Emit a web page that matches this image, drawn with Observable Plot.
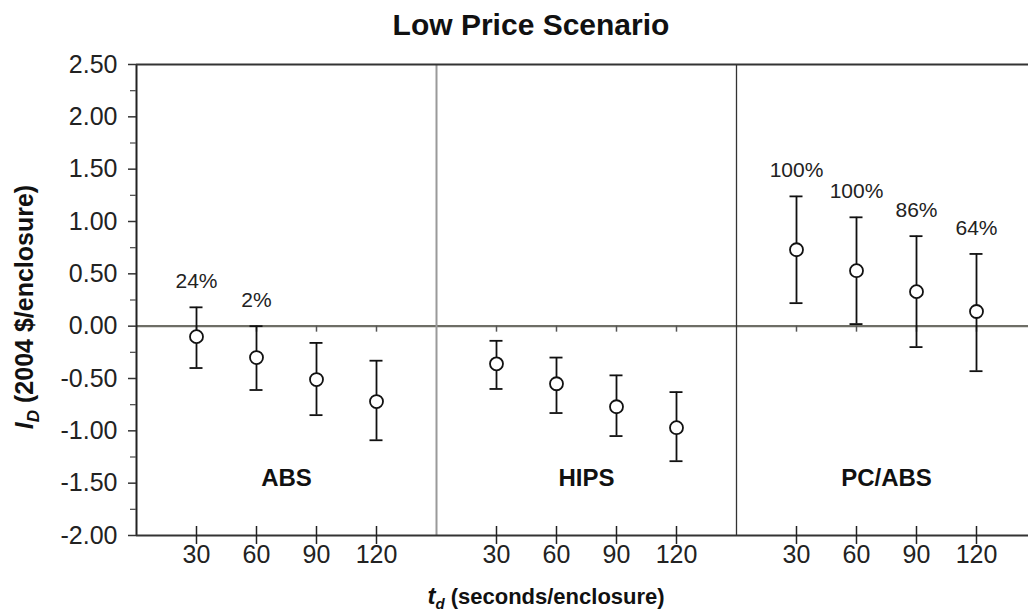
<!DOCTYPE html>
<html>
<head>
<meta charset="utf-8">
<script src="https://cdn.jsdelivr.net/npm/d3@7"></script>
<script src="https://cdn.jsdelivr.net/npm/@observablehq/plot@0.6"></script>
<style>
  html, body { margin: 0; padding: 0; background: #fff; }
  #chart svg { display: block; }
</style>
</head>
<body>
<div id="chart"></div>
<script>
// ---- data ----
const materials = ["ABS", "HIPS", "PC/ABS"];
const tdValues = [30, 60, 90, 120];
const absMean = [-0.10, -0.30, -0.51, -0.72];
const absLow  = [-0.40, -0.61, -0.85, -1.09];
const absHigh = [ 0.18,  0.00, -0.16, -0.33];
const absPct  = ["24%", "2%", "", ""];
const hipsMean = [-0.36, -0.55, -0.77, -0.97];
const hipsLow  = [-0.60, -0.83, -1.05, -1.29];
const hipsHigh = [-0.14, -0.30, -0.47, -0.63];
const hipsPct  = ["", "", "", ""];
const pcMean = [0.73, 0.53, 0.33, 0.14];
const pcLow  = [0.22, 0.02, -0.20, -0.43];
const pcHigh = [1.24, 1.04, 0.86, 0.69];
const pcPct  = ["100%", "100%", "86%", "64%"];
const yTicks = [-2, -1.5, -1, -0.5, 0, 0.5, 1, 1.5, 2, 2.5];
const yMinorTicks = [-1.75, -1.25, -0.75, -0.25, 0.25, 0.75, 1.25, 1.75, 2.25];

// ---- build table ----
const panelSpan = 150;
const series = [
  [absMean, absLow, absHigh, absPct],
  [hipsMean, hipsLow, hipsHigh, hipsPct],
  [pcMean, pcLow, pcHigh, pcPct]
];
const rows = [];
series.forEach(([m, lo, hi, pct], p) => {
  tdValues.forEach((t, i) => {
    rows.push({material: materials[p], pos: p * panelSpan + t, td: t, mean: m[i], low: lo[i], high: hi[i], pct: pct[i]});
  });
});
const xTickPos = rows.map(d => d.pos);
const panelLabels = materials.map((m, p) => ({label: m, pos: p * panelSpan + panelSpan / 2}));
const dividers = materials.slice(1).map((m, p) => (p + 1) * panelSpan);

const font = "'Liberation Sans', Arial, Helvetica, sans-serif";

const chart = Plot.plot({
  width: 1028,
  height: 615,
  marginTop: 64,
  marginBottom: 80,
  marginLeft: 136,
  marginRight: 0,
  style: {fontFamily: font, background: "#fff", color: "#222"},
  x: {domain: [0, 446], axis: null},
  y: {domain: [-2, 2.5], axis: null},
  marks: [
    // zero line
    Plot.ruleY([0], {stroke: "#6e6e66", strokeWidth: 2.2}),
    // small ticks under zero line
    Plot.ruleX(xTickPos, {y1: 0, y2: 0, insetBottom: -6, stroke: "#555", strokeWidth: 1.5}),
    // panel dividers
    Plot.ruleX([dividers[0]], {stroke: "#9a9a9a", strokeWidth: 2}),
    Plot.ruleX([dividers[1]], {stroke: "#333", strokeWidth: 1.3}),
    // frame: left, top, bottom
    Plot.ruleX([0], {stroke: "#222", strokeWidth: 2}),
    Plot.ruleY([2.5], {stroke: "#333", strokeWidth: 2}),
    Plot.ruleY([-2], {stroke: "#333", strokeWidth: 2}),
    // bottom ticks crossing axis
    Plot.ruleX(xTickPos, {y1: -2, y2: -2, insetTop: -9, insetBottom: -9, stroke: "#222", strokeWidth: 1.5}),
    Plot.axisX({ticks: xTickPos, tickSize: 0, tickPadding: 10, label: null, tickFormat: d => String(d % panelSpan), fontSize: 25, fill: "#222"}),
    // y axis
    Plot.axisY({ticks: yTicks, tickSize: 8, tickPadding: 11, label: null, tickFormat: d => d.toFixed(2), fontSize: 25, fill: "#222", stroke: "#333", strokeWidth: 1.5}),
    Plot.axisY({ticks: yMinorTicks, tickSize: 6, label: null, tickFormat: () => "", stroke: "#555", strokeWidth: 1.3}),
    // error bars
    Plot.ruleX(rows, {x: "pos", y1: "low", y2: "high", stroke: "#111", strokeWidth: 1.8}),
    Plot.ruleY(rows, {y: "high", x1: "pos", x2: "pos", insetLeft: -6.5, insetRight: -6.5, stroke: "#111", strokeWidth: 1.8}),
    Plot.ruleY(rows, {y: "low", x1: "pos", x2: "pos", insetLeft: -6.5, insetRight: -6.5, stroke: "#111", strokeWidth: 1.8}),
    // points
    Plot.dot(rows, {x: "pos", y: "mean", r: 6.5, fill: "#fff", stroke: "#111", strokeWidth: 1.8}),
    // percent labels
    Plot.text(rows.filter(d => d.pct), {x: "pos", y: "high", text: "pct", dy: -26, fontSize: 21, fill: "#222"}),
    // panel labels
    Plot.text(panelLabels, {x: "pos", y: () => -1.45, text: "label", fontSize: 24, fontWeight: "bold", fill: "#111"})
  ]
});

const svg = d3.select(chart);
// title
svg.append("text")
  .attr("x", 531).attr("y", 35)
  .attr("text-anchor", "middle")
  .attr("font-family", font).attr("font-size", 30).attr("font-weight", "bold").attr("fill", "#111")
  .text("Low Price Scenario");
// x-axis label
const xl = svg.append("text")
  .attr("x", 546).attr("y", 604)
  .attr("text-anchor", "middle")
  .attr("font-family", font).attr("font-size", 22).attr("font-weight", "bold").attr("fill", "#111");
xl.append("tspan").attr("font-style", "italic").attr("font-size", 24).text("t");
xl.append("tspan").attr("font-style", "italic").attr("font-size", 15).attr("dy", 5).text("d");
xl.append("tspan").attr("dy", -5).text(" (seconds/enclosure)");
// y-axis label
const yl = svg.append("text")
  .attr("transform", "translate(33,307) rotate(-90)")
  .attr("text-anchor", "middle")
  .attr("font-family", font).attr("font-size", 25).attr("font-weight", "bold").attr("fill", "#111");
yl.append("tspan").attr("font-style", "italic").text("I");
yl.append("tspan").attr("font-style", "italic").attr("font-size", 17).attr("dy", 6).text("D");
yl.append("tspan").attr("dy", -6).text(" (2004 $/enclosure)");

document.getElementById("chart").append(chart);
</script>
</body>
</html>
